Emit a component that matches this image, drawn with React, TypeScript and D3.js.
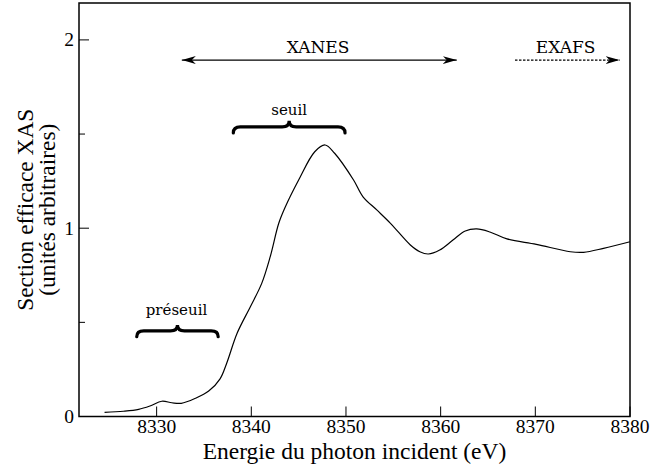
import React from 'react';
import * as d3 from 'd3';

// XAS spectrum (energy in eV, cross section in arbitrary units)
const energy = [
  8324.5, 8326.5, 8328.1, 8329.3, 8330.55, 8331.6, 8332.6, 8334.1, 8335.5, 8336.7,
  8337.4, 8338.5, 8339.9, 8341.1, 8342.0, 8342.9, 8343.6, 8345.0, 8346.7, 8347.8,
  8348.8, 8350.8, 8351.8, 8353.25, 8354.7, 8356.8, 8357.8, 8358.7, 8359.9, 8361.3,
  8362.6, 8363.8, 8365.2, 8367.0, 8370.1, 8373.7, 8375.1, 8377.2, 8380.0,
];
const crossSection = [
  0.022, 0.028, 0.038, 0.056, 0.081, 0.073, 0.070, 0.097, 0.135, 0.2,
  0.283, 0.442, 0.583, 0.707, 0.849, 1.026, 1.114, 1.256, 1.406, 1.442,
  1.398, 1.256, 1.167, 1.097, 1.026, 0.911, 0.875, 0.863, 0.884, 0.937,
  0.985, 0.996, 0.98, 0.943, 0.914, 0.875, 0.872, 0.893, 0.928,
];

const xTicks = [8330, 8340, 8350, 8360, 8370, 8380];
const yTicks = [0, 1, 2];
const yMinorTicks = [0.5, 1.5];

const W = 650;
const H = 464;
const margin = { top: 3, right: 20, bottom: 47.5, left: 79 };

const serif: React.CSSProperties = { fontFamily: 'Liberation Serif' };
const annot: React.CSSProperties = { fontFamily: 'DejaVu Serif' };

const App: React.FC = () => {
  const x = d3.scaleLinear().domain([8321.8, 8380]).range([margin.left, W - margin.right]);
  const y = d3.scaleLinear().domain([0, 2.196]).range([H - margin.bottom, margin.top]);

  const pts = energy.map((e, i) => [e, crossSection[i]] as [number, number]);
  const line = d3
    .line<[number, number]>()
    .x(d => x(d[0]))
    .y(d => y(d[1]))
    .curve(d3.curveCatmullRom.alpha(0.5));

  const x0 = x.range()[0];
  const x1 = x.range()[1];
  const y0 = y.range()[0];
  const y1 = y.range()[1];

  // curly brace opening downwards
  const brace = (a: number, b: number, top: number, base: number) => {
    const xa = x(a);
    const xb = x(b);
    const xc = (xa + xb) / 2;
    const yt = y(top);
    const yb = y(base);
    const ym = yt + (yb - yt) * 0.5;
    const q = 7;
    return `M${xa},${yb} Q${xa},${ym} ${xa + q},${ym} L${xc - q},${ym} Q${xc},${ym} ${xc},${yt} Q${xc},${ym} ${xc + q},${ym} L${xb - q},${ym} Q${xb},${ym} ${xb},${yb}`;
  };

  const arrowY = y(1.893);

  return (
    <svg width={W} height={H} style={{ position: 'absolute', left: 0, top: 0 }}>
      <defs>
        <marker id="head" viewBox="0 0 14 8" refX="14" refY="4" markerWidth="14" markerHeight="8"
          markerUnits="userSpaceOnUse" orient="auto-start-reverse">
          <path d="M0,0 L14,4 L0,8 L4,4 Z" fill="#000" />
        </marker>
      </defs>
      <rect width={W} height={H} fill="#fff" />

      {/* frame */}
      <rect x={x0} y={y1} width={x1 - x0} height={y0 - y1} fill="none" stroke="#000" strokeWidth={1.5} />

      {/* x ticks */}
      {xTicks.map(t => (
        <g key={t}>
          <line x1={x(t)} x2={x(t)} y1={y0} y2={y0 - 10} stroke="#000" strokeWidth={1} />
          <text x={x(t)} y={432.5} textAnchor="middle" style={serif} fontSize={19.5}>{t}</text>
        </g>
      ))}
      {/* y ticks */}
      {yTicks.map(t => (
        <g key={t}>
          <line x1={x0} x2={x0 + 10} y1={y(t)} y2={y(t)} stroke="#000" strokeWidth={1} />
          <text x={74} y={y(t) + 6.5} textAnchor="end" style={serif} fontSize={19.5}>{t}</text>
        </g>
      ))}
      {yMinorTicks.map(t => (
        <line key={t} x1={x0} x2={x0 + 6} y1={y(t)} y2={y(t)} stroke="#000" strokeWidth={1} />
      ))}

      {/* axis titles */}
      <text x={(x0 + x1) / 2} y={458.5} textAnchor="middle" style={serif} fontSize={23.5}>
        Energie du photon incident (eV)
      </text>
      <g transform={`translate(33,${(y0 + y1) / 2}) rotate(-90)`}>
        <text x={0} y={0} textAnchor="middle" style={serif} fontSize={23.4}>Section efficace XAS</text>
        <text x={0} y={22} textAnchor="middle" style={serif} fontSize={23.4}>(unités arbitraires)</text>
      </g>

      {/* spectrum */}
      <path d={line(pts) ?? ''} fill="none" stroke="#000" strokeWidth={1.2} />

      {/* XANES / EXAFS ranges */}
      <line x1={x(8332.66)} x2={x(8361.7)} y1={arrowY} y2={arrowY} stroke="#000" strokeWidth={1.2}
        markerStart="url(#head)" markerEnd="url(#head)" />
      <text x={x(8347.05)} y={y(1.93)} textAnchor="middle" style={annot} fontSize={17}>XANES</text>
      <line x1={x(8367.85)} x2={x(8378.9)} y1={arrowY} y2={arrowY} stroke="#000" strokeWidth={1.2}
        strokeDasharray="2.5,1.5" markerEnd="url(#head)" />
      <text x={x(8373.2)} y={y(1.93)} textAnchor="middle" style={annot} fontSize={17}>EXAFS</text>

      {/* edge / pre-edge braces */}
      <path d={brace(8338.1, 8349.9, 1.571, 1.506)} fill="none" stroke="#000" strokeWidth={3.2} strokeLinecap="round" />
      <text x={x(8344.0)} y={y(1.6)} textAnchor="middle" style={annot} fontSize={15}>seuil</text>
      <path d={brace(8327.9, 8336.5, 0.486, 0.424)} fill="none" stroke="#000" strokeWidth={3.2} strokeLinecap="round" />
      <text x={x(8332.1)} y={y(0.539)} textAnchor="middle" style={annot} fontSize={15}>préseuil</text>
    </svg>
  );
};

export default App;
